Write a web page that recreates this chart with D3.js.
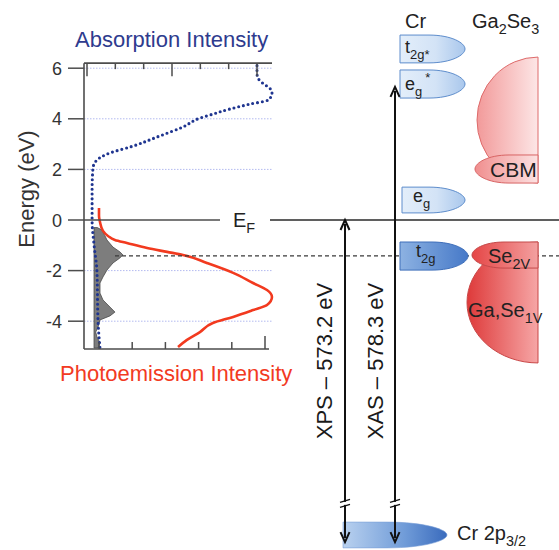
<!DOCTYPE html>
<html><head><meta charset="utf-8">
<script src="https://cdn.jsdelivr.net/npm/d3@7"></script>
<style>body{margin:0;background:#fff;} svg{display:block;font-family:"Liberation Sans",Arial,Helvetica,sans-serif;}</style>
</head><body><svg id="c" width="559" height="550"></svg>
<script>
// ---------- data ----------
const energyTicks = [6, 4, 2, 0, -2, -4];
const gridEnergies = [6, 4, 2, -2, -4];
const absTicks = [0, 1, 2, 3, 4, 5, 6];
const absMajor = [0, 3, 6];
const pesTicks = [0, 1, 2, 3, 4, 5];
const pesMajor = [5];

// Absorption (dotted blue) : energy (eV) and intensity (a.u.)
const absE = [6.1, 5.8, 5.6, 5.4, 5.2, 5.0, 4.74, 4.58, 4.39, 4.15, 4.03, 3.68, 3.28, 2.92, 2.65, 2.37, 2.05, 1.2, 0, -1.0, -2, -4, -5.1];
const absI = [6.0, 6.0, 6.04, 6.21, 6.46, 6.53, 6.39, 5.75, 5.05, 4.34, 3.99, 3.39, 2.47, 1.62, 0.81, 0.35, 0.21, 0.18, 0.18, 0.25, 0.35, 0.39, 0.46];

// Photoemission (red)
const pesE = [0.47, 0.16, -0.08, -0.43, -0.63, -0.79, -0.91, -1.11, -1.26, -1.38, -1.70, -2.09, -2.49, -2.77, -3.04, -3.36, -3.56, -3.83, -4.07, -4.43, -4.74, -5.02];
const pesI = [0.0, 0.0, 0.03, 0.12, 0.27, 0.48, 0.84, 1.45, 2.05, 2.53, 3.25, 4.04, 4.64, 5.06, 5.21, 5.06, 4.64, 4.04, 3.43, 3.04, 2.65, 2.38];

// Resonant difference spectrum (grey fill)
const resE = [-0.3, -0.40, -0.6, -0.79, -1.07, -1.26, -1.38, -1.50, -1.70, -1.98, -2.25, -2.49, -2.89, -3.16, -3.44, -3.64, -3.79, -3.95, -4.23, -4.43, -4.62, -4.86, -5.06];
const resI = [-0.05, 0.09, 0.17, 0.24, 0.42, 0.63, 0.72, 0.63, 0.42, 0.24, 0.12, 0.03, 0.03, 0.12, 0.33, 0.48, 0.33, 0.03, -0.03, -0.1, -0.06, 0.03, -0.03];
const resBase = -0.15;

// Energy levels (eV)
const fermiE = 0;
const dashedE = -1.42;
const crStates = ["t2g*", "eg*", "eg", "t2g"];
const crTop = [7.31, 5.93, 1.30, -0.87];
const crBottom = [6.21, 4.82, 0.28, -1.98];
const gaStates = ["CB", "CBM", "Ga,Se1V", "Se2V"];
const gaTop = [6.44, 2.57, -0.87, -0.87];
const gaBottom = [1.46, 1.46, -5.65, -1.90];
const coreTop = -11.94, coreBottom = -12.96;   // Cr 2p3/2 (drawn below an axis break)
const xpsTopE = 0, xasTopE = 5.26, arrowBottomE = -12.73, breakE = -11.2;

// ---------- scales ----------
const svg = d3.select("#c");
const y = d3.scaleLinear().domain([-5, 6]).range([346.5, 68.2]);
const xAbs = d3.scaleLinear().domain([0, 6]).range([87, 257]);
const xPes = d3.scaleLinear().domain([0, 5]).range([99, 265]);
const L = 84, R = 272, T = y(6.2), B = y(-5.1);

// ---------- gradients ----------
const defs = svg.append("defs");
function grad(id, stops) {
  const g = defs.append("linearGradient").attr("id", id).attr("x1", 0).attr("x2", 1).attr("y1", 0).attr("y2", 0);
  stops.forEach(s => g.append("stop").attr("offset", s[0]).attr("stop-color", s[1]));
}
grad("gBlueLight", [[0, "#e3eefa"], [0.55, "#d3e3f6"], [1, "#a9c7ec"]]);
grad("gBlueDark", [[0, "#8db2e2"], [1, "#4679c8"]]);
grad("gBlueCore", [[0, "#b9d1ef"], [0.6, "#6f9bd8"], [1, "#3a6bbd"]]);
grad("gPinkCB", [[0, "#f29a9a"], [1, "#fde6e6"]]);
grad("gPinkCBM", [[0, "#f08e8e"], [1, "#fce2e2"]]);
grad("gRedSe", [[0, "#e54646"], [1, "#f3a0a0"]]);
grad("gRedGa", [[0, "#de3a3a"], [1, "#f6a6a6"]]);

// ---------- left panel ----------
const gl = svg.append("g");
gl.selectAll(".grid").data(gridEnergies).join("line")
  .attr("x1", L).attr("x2", R).attr("y1", d => y(d)).attr("y2", d => y(d))
  .attr("stroke", "#b3baf0").attr("stroke-width", 1).attr("stroke-dasharray", "1.5,1.5");

// grey resonant area
const resData = resE.map((e, i) => [e, resI[i]]);
gl.append("path").datum(resData)
  .attr("d", d3.area().y(d => y(d[0])).x0(xPes(resBase)).x1(d => xPes(d[1])))
  .attr("fill", "#7d7d7d").attr("stroke", "#4a4a4a").attr("stroke-width", 0.8);

// red photoemission
const pesData = pesE.map((e, i) => [e, pesI[i]]);
gl.append("path").datum(pesData)
  .attr("d", d3.line().x(d => xPes(d[1])).y(d => y(d[0])).curve(d3.curveMonotoneY))
  .attr("fill", "none").attr("stroke", "#f23a1f").attr("stroke-width", 2.6).attr("stroke-linejoin", "round");

// blue dotted absorption
const absData = absE.map((e, i) => [e, absI[i]]);
gl.append("path").datum(absData)
  .attr("d", d3.line().x(d => xAbs(d[1])).y(d => y(d[0])).curve(d3.curveMonotoneY))
  .attr("fill", "none").attr("stroke", "#1f3590").attr("stroke-width", 3.1)
  .attr("stroke-linecap", "round").attr("stroke-dasharray", "0,4.8");

// axes
const axisColor = "#4d4d4d";
gl.append("line").attr("x1", L).attr("x2", L).attr("y1", T).attr("y2", B).attr("stroke", axisColor).attr("stroke-width", 1.6);
gl.append("line").attr("x1", L).attr("x2", R).attr("y1", T).attr("y2", T).attr("stroke", axisColor).attr("stroke-width", 1.6);
gl.append("line").attr("x1", L).attr("x2", R - 3).attr("y1", B).attr("y2", B).attr("stroke", axisColor).attr("stroke-width", 1.6);
gl.selectAll(".tt").data(absTicks).join("line")
  .attr("x1", d => xAbs(d)).attr("x2", d => xAbs(d)).attr("y1", T)
  .attr("y2", d => T + (absMajor.includes(d) ? 13 : 6)).attr("stroke", axisColor).attr("stroke-width", 1.5);
gl.selectAll(".bt").data(pesTicks).join("line")
  .attr("x1", d => xPes(d)).attr("x2", d => xPes(d)).attr("y1", B)
  .attr("y2", d => B - (pesMajor.includes(d) ? 13 : 7)).attr("stroke", axisColor).attr("stroke-width", 1.5);
gl.selectAll(".yt").data(energyTicks).join("line")
  .attr("x1", 68).attr("x2", d => d === 0 ? 220 : L).attr("y1", d => y(d)).attr("y2", d => y(d))
  .attr("stroke", axisColor).attr("stroke-width", 1.5);
gl.selectAll(".yl").data(energyTicks).join("text")
  .attr("x", 62).attr("y", d => y(d) + 6.5).attr("text-anchor", "end")
  .attr("font-size", 18).attr("fill", "#333").text(d => d);

svg.append("text").attr("transform", "translate(34,189) rotate(-90)").attr("text-anchor", "middle")
  .attr("font-size", 22).attr("fill", "#333").text("Energy (eV)");
svg.append("text").attr("x", 75).attr("y", 47).attr("font-size", 22).attr("fill", "#2e3b8e").text("Absorption Intensity");
svg.append("text").attr("x", 60).attr("y", 381).attr("font-size", 22).attr("fill", "#f23a22").text("Photoemission Intensity");

// ---------- rich text helper ----------
function rich(x, yy, parts, size, anchor, color) {
  const t = svg.append("text").attr("x", x).attr("y", yy).attr("font-size", size)
    .attr("fill", color || "#222").attr("text-anchor", anchor || "start");
  let shift = 0;
  parts.forEach(p => {
    const target = p.s === "sub" ? size * 0.32 : p.s === "sup" ? -size * 0.42 : 0;
    const ts = t.append("tspan").text(p.t).attr("dy", target - shift);
    if (p.dx) ts.attr("dx", p.dx);
    if (p.s) ts.attr("font-size", size * 0.72);
    shift = target;
  });
  return t;
}

// ---------- Fermi level & dashed line ----------
svg.append("line").attr("x1", 270).attr("x2", 559).attr("y1", y(fermiE)).attr("y2", y(fermiE))
  .attr("stroke", "#2a2a2a").attr("stroke-width", 1.5);
rich(233, y(fermiE) + 7, [{ t: "E" }, { t: "F", s: "sub" }], 20, "start", "#222");
svg.append("line").attr("x1", 115).attr("x2", 559).attr("y1", y(dashedE)).attr("y2", y(dashedE))
  .attr("stroke", "#3a3a3a").attr("stroke-width", 1.2).attr("stroke-dasharray", "4,3");

// ---------- shapes ----------
function bulletRight(x0, x1, yT, yB, nose) {
  const m = (yT + yB) / 2, h = yB - yT, xs = x1 - nose;
  return `M${x0},${yT}L${xs},${yT}C${xs + nose * 0.62},${yT} ${x1},${m - h * 0.22} ${x1},${m}` +
    `C${x1},${m + h * 0.22} ${xs + nose * 0.62},${yB} ${xs},${yB}L${x0},${yB}Z`;
}
function bulletLeft(x0, x1, yT, yB, nose) {
  const m = (yT + yB) / 2, h = yB - yT, xs = x0 + nose;
  return `M${x1},${yT}L${xs},${yT}C${xs - nose * 0.62},${yT} ${x0},${m - h * 0.22} ${x0},${m}` +
    `C${x0},${m + h * 0.22} ${xs - nose * 0.62},${yB} ${xs},${yB}L${x1},${yB}Z`;
}
function halfDisc(xR, rx, yT, yB) {
  const ry = (yB - yT) / 2;
  return `M${xR},${yT}A${rx},${ry} 0 0 0 ${xR},${yB}Z`;
}

// Ga2Se3
svg.append("path").attr("d", halfDisc(538, 61, y(gaTop[0]), y(gaBottom[0])))
  .attr("fill", "url(#gPinkCB)").attr("stroke", "#de6b6b").attr("stroke-width", 1);
svg.append("path").attr("d", bulletLeft(475, 538, y(gaTop[1]), y(gaBottom[1]), 34))
  .attr("fill", "url(#gPinkCBM)").attr("stroke", "#d86464").attr("stroke-width", 1);
svg.append("path").attr("d", halfDisc(538, 71, y(gaTop[2]), y(gaBottom[2])))
  .attr("fill", "url(#gRedGa)").attr("stroke", "#c94646").attr("stroke-width", 1);
svg.append("path").attr("d", bulletLeft(472, 538, y(gaTop[3]), y(gaBottom[3]), 32))
  .attr("fill", "url(#gRedSe)").attr("stroke", "#c44a4a").attr("stroke-width", 1);

// Cr
const crFill = ["url(#gBlueLight)", "url(#gBlueLight)", "url(#gBlueLight)", "url(#gBlueDark)"];
const crX0 = [400, 400, 402, 400], crX1 = [465, 465, 465, 468];
crStates.forEach((s, i) => {
  svg.append("path").attr("d", bulletRight(crX0[i], crX1[i], y(crTop[i]), y(crBottom[i]), 36))
    .attr("fill", crFill[i]).attr("stroke", i === 3 ? "#3f6fba" : "#5e8dcc").attr("stroke-width", 1);
});
svg.append("path").attr("d", bulletRight(343, 447, y(coreTop), y(coreBottom), 60))
  .attr("fill", "url(#gBlueCore)").attr("stroke", "#7aa0d6").attr("stroke-width", 0.6);

// ---------- arrows ----------
function arrow(x, yTop, yBot) {
  svg.append("line").attr("x1", x).attr("x2", x).attr("y1", yTop + 4).attr("y2", yBot - 4)
    .attr("stroke", "#111").attr("stroke-width", 2);
  svg.append("path").attr("d", `M${x - 4.5},${yTop + 10}L${x},${yTop}L${x + 4.5},${yTop + 10}`)
    .attr("fill", "none").attr("stroke", "#111").attr("stroke-width", 2).attr("stroke-linejoin", "miter");
  svg.append("path").attr("d", `M${x - 4.5},${yBot - 10}L${x},${yBot}L${x + 4.5},${yBot - 10}`)
    .attr("fill", "none").attr("stroke", "#111").attr("stroke-width", 2).attr("stroke-linejoin", "miter");
  const yb = y(breakE);
  svg.append("rect").attr("x", x - 3).attr("y", yb - 1.5).attr("width", 6).attr("height", 3).attr("fill", "#fff");
  [-2.5, 2.5].forEach(o => svg.append("line")
    .attr("x1", x - 5).attr("x2", x + 5).attr("y1", yb + o + 1.5).attr("y2", yb + o - 1.5)
    .attr("stroke", "#111").attr("stroke-width", 1.3));
}
arrow(345, y(xpsTopE), y(arrowBottomE));
arrow(395, y(xasTopE), y(arrowBottomE));

svg.append("text").attr("transform", "translate(332,361) rotate(-90)").attr("text-anchor", "middle")
  .attr("font-size", 22).attr("fill", "#1a1a1a").text("XPS \u2013 573.2 eV");
svg.append("text").attr("transform", "translate(383,361) rotate(-90)").attr("text-anchor", "middle")
  .attr("font-size", 22).attr("fill", "#1a1a1a").text("XAS \u2013 578.3 eV");

// ---------- labels ----------
rich(405, 28, [{ t: "Cr" }], 20);
rich(472, 28, [{ t: "Ga" }, { t: "2", s: "sub" }, { t: "Se" }, { t: "3", s: "sub" }], 20);
rich(405, 53, [{ t: "t" }, { t: "2g*", s: "sub" }], 18);
rich(405, 90, [{ t: "e" }, { t: "g", s: "sub" }, { t: "*", s: "sup", dx: 3 }], 18);
rich(413, 202, [{ t: "e" }, { t: "g", s: "sub" }], 18);
rich(416, 257, [{ t: "t" }, { t: "2g", s: "sub" }], 18);
rich(490, 177, [{ t: "CBM" }], 21);
rich(488, 263, [{ t: "Se" }, { t: "2V", s: "sub" }], 20);
rich(468, 317, [{ t: "Ga,Se" }, { t: "1V", s: "sub" }], 20);
rich(457, 540, [{ t: "Cr 2p" }, { t: "3/2", s: "sub" }], 20);
</script></body></html>
